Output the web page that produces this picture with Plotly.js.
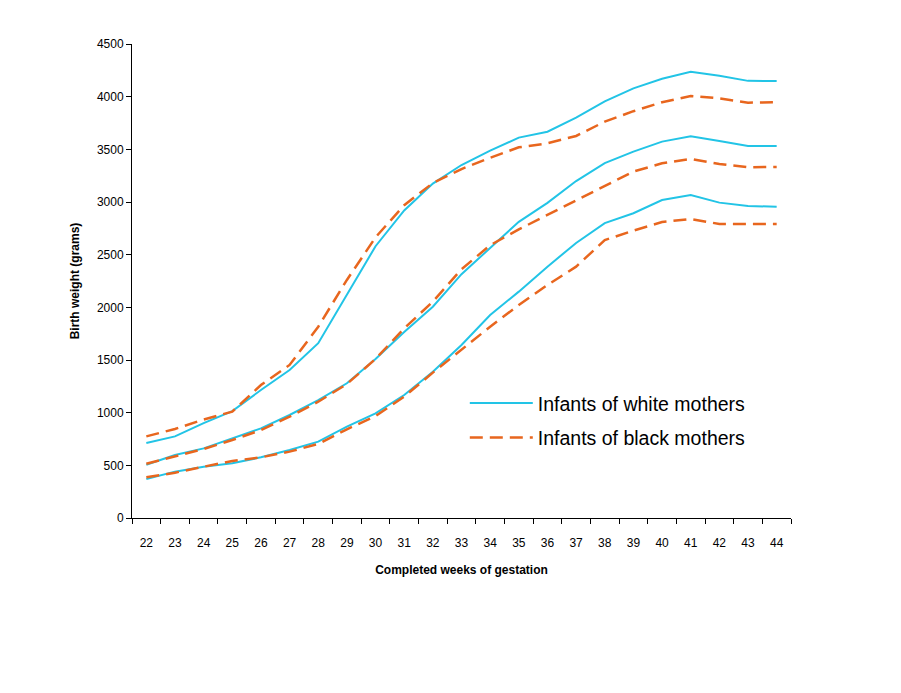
<!DOCTYPE html>
<html>
<head>
<meta charset="utf-8">
<script src="https://cdn.plot.ly/plotly-3.0.1.min.js"></script>
<style>html,body{margin:0;padding:0;background:#fff;}#chart{width:901px;height:693px;}</style>
</head>
<body>
<div id="chart"></div>
<script>
const weeks = ["22","23","24","25","26","27","28","29","30","31","32","33","34","35","36","37","38","39","40","41","42","43","44"];
const white10 = [370,440,487,519,576,646,725,867,994,1168,1389,1642,1927,2149,2386,2611,2800,2893,3019,3066,2994,2962,2955];
const black10 = [386,430,487,541,576,630,703,842,968,1152,1380,1595,1816,2022,2212,2386,2639,2728,2810,2839,2791,2790,2790];
const white50 = [506,598,661,756,851,978,1120,1279,1510,1765,2006,2315,2560,2812,2992,3199,3370,3478,3573,3624,3579,3532,3532];
const black50 = [515,582,655,740,835,962,1104,1272,1510,1800,2054,2362,2590,2740,2878,3010,3150,3289,3367,3408,3361,3330,3333];
const white90 = [712,775,900,1015,1215,1405,1660,2117,2580,2920,3175,3351,3487,3611,3667,3800,3955,4079,4170,4237,4199,4150,4149];
const black90 = [775,845,935,1010,1262,1453,1816,2260,2665,2970,3180,3313,3420,3519,3557,3627,3763,3862,3947,4006,3984,3943,3947];

const cyan = "#22C4E6";
const orange = "#E8661E";
const whiteLine = {color: cyan, width: 2};
const blackLine = {color: orange, width: 2.5, dash: "13px,7px"};

function tr(y, line, name, group, show) {
  return {x: weeks, y: y, type: "scatter", mode: "lines", line: line, name: name,
          legendgroup: group, showlegend: show, hoverinfo: "x+y"};
}
const data = [
  tr(white90, whiteLine, "Infants of white mothers", "w", true),
  tr(white50, whiteLine, "Infants of white mothers", "w", false),
  tr(white10, whiteLine, "Infants of white mothers", "w", false),
  tr(black90, blackLine, "Infants of black mothers", "b", true),
  tr(black50, blackLine, "Infants of black mothers", "b", false),
  tr(black10, blackLine, "Infants of black mothers", "b", false)
];

const layout = {
  width: 901, height: 693,
  margin: {l: 132, r: 110, t: 44, b: 175},
  paper_bgcolor: "#fff", plot_bgcolor: "#fff",
  font: {family: "Liberation Sans, Arial, sans-serif", color: "#000", size: 12},
  showlegend: true,
  legend: {x: 0.505, y: 0.283, xanchor: "left", yanchor: "top", bgcolor: "rgba(0,0,0,0)",
           font: {size: 19.5, family: "Liberation Sans, Arial, sans-serif"}, itemwidth: 63,
           tracegroupgap: 6, traceorder: "grouped"},
  xaxis: {type: "category", range: [-0.5, 22.5], tickson: "boundaries", ticks: "outside", ticklen: 5, tickcolor: "#000",
          showline: true, linecolor: "#000", linewidth: 1, showgrid: false, zeroline: false,
          tickfont: {size: 12}, ticklabelstandoff: 14,
          title: {text: "<b>Completed weeks of gestation</b>", font: {size: 12}, standoff: 16}},
  yaxis: {range: [0, 4500], dtick: 500, ticks: "outside", ticklen: 5, tickcolor: "#000",
          showline: true, linecolor: "#000", linewidth: 1, showgrid: false, zeroline: false,
          tickfont: {size: 12},
          title: {text: "<b>Birth weight (grams)</b>", font: {size: 12}, standoff: 14}}
};
Plotly.newPlot("chart", data, layout, {displayModeBar: false, staticPlot: true});
</script>
</body>
</html>
